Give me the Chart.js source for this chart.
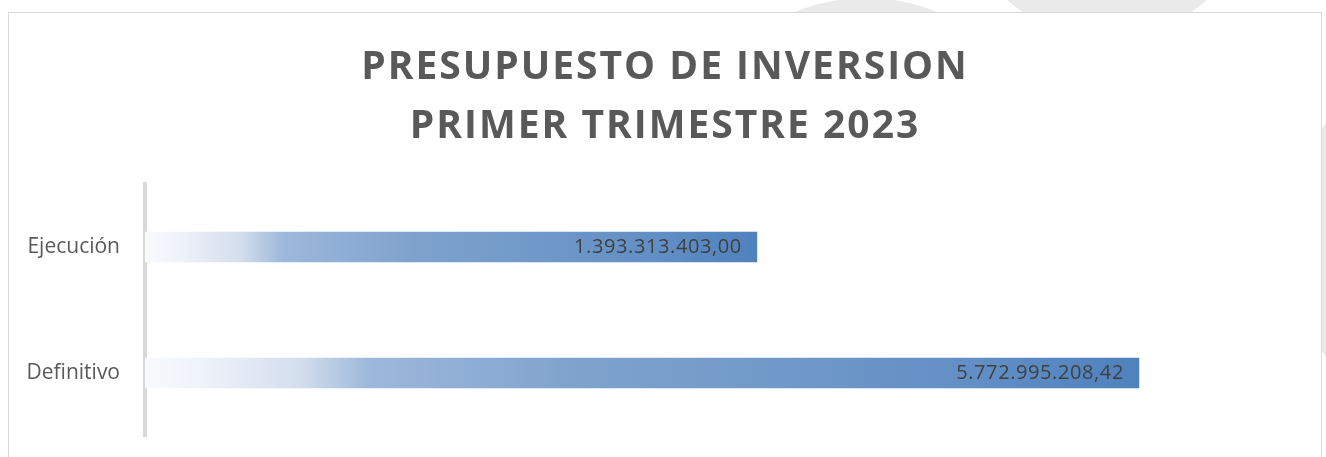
<!DOCTYPE html>
<html>
<head>
<meta charset="utf-8">
<script src="https://cdn.jsdelivr.net/npm/chart.js@4"></script>
<style>
  html, body { margin: 0; padding: 0; background: #fff; overflow: hidden; }
  body { width: 1326px; height: 457px; position: relative; }
  .blob { position: absolute; border-radius: 50%; background: #eaeaea; }
  #frame { position: absolute; left: 8px; top: 12px; width: 1312px; height: 460px;
           border: 1px solid #d9d9d9; background: #fff; }
  #wrap { position: absolute; left: 9px; top: 13px; width: 1312px; height: 444px; }
</style>
</head>
<body>
<div class="blob" style="left:676px; top:-2px; width:380px; height:380px;"></div>
<div class="blob" style="left:957px; top:-262px; width:300px; height:300px;"></div>
<div class="blob" style="left:1290px; top:30px; width:420px; height:420px;"></div>
<div id="frame"></div>
<div id="wrap"><canvas id="barChart"></canvas></div>
<script>
  // chart data
  var categories = ['Ejecución', 'Definitivo'];
  var values = [1393313403.00, 5772995208.42];
  var titleLines = ['PRESUPUESTO DE INVERSION', 'PRIMER TRIMESTRE 2023'];

  var axisMin = -5.62e9;
  var axisMax = 7.86e9;

  // 1.234.567,89 style
  function fmt(v) {
    var parts = v.toFixed(2).split('.');
    var intPart = parts[0].replace(/\B(?=(\d{3})+(?!\d))/g, '.');
    return intPart + ',' + parts[1];
  }

  function barGradient(context) {
    var chart = context.chart;
    var x = chart.scales.x;
    if (!x || !chart.chartArea) return '#4f81bd';
    var x0 = x.getPixelForValue(axisMin);
    var x1 = x.getPixelForValue(values[context.dataIndex]);
    var g = chart.ctx.createLinearGradient(x0, 0, x1, 0);
    g.addColorStop(0, '#f8fafd');
    g.addColorStop(0.06, '#eef2f9');
    g.addColorStop(0.156, '#d3deed');
    g.addColorStop(0.226, '#9db8db');
    g.addColorStop(0.44, '#7ea2cc');
    g.addColorStop(0.62, '#729ac9');
    g.addColorStop(0.84, '#618ec5');
    g.addColorStop(1, '#4f81bd');
    return g;
  }

  // spaced-out title like the office chart style
  var titleSpacing = {
    id: 'titleSpacing',
    afterInit: function(chart) {
      var t = chart.titleBlock;
      if (!t) return;
      var orig = t.draw.bind(t);
      t.draw = function() {
        chart.ctx.save();
        chart.ctx.letterSpacing = '2px';
        orig();
        chart.ctx.restore();
      };
    }
  };

  var valueLabels = {
    id: 'valueLabels',
    afterDatasetsDraw: function(chart) {
      var ctx = chart.ctx;
      var meta = chart.getDatasetMeta(0);
      ctx.save();
      ctx.font = '20px "Open Sans"';
      ctx.letterSpacing = '0.6px';
      ctx.fillStyle = '#404040';
      ctx.textAlign = 'right';
      ctx.textBaseline = 'middle';
      meta.data.forEach(function(bar, i) {
        ctx.fillText(fmt(values[i]), bar.x - 15, bar.y);
      });
      ctx.restore();
    }
  };

  var ctx = document.getElementById('barChart').getContext('2d');
  var barChart = new Chart(ctx, {
    type: 'bar',
    data: {
      labels: categories,
      datasets: [{
        data: values,
        base: axisMin,
        backgroundColor: barGradient,
        borderWidth: 0,
        barThickness: 30
      }]
    },
    options: {
      indexAxis: 'y',
      responsive: true,
      maintainAspectRatio: false,
      animation: false,
      layout: { padding: { top: 0, bottom: 21, left: 0, right: 0 } },
      plugins: {
        legend: { display: false },
        tooltip: { enabled: false },
        title: {
          display: true,
          text: titleLines,
          color: '#595959',
          font: { family: '"Open Sans"', size: 39, weight: 'bold', lineHeight: 1.513 },
          padding: { top: 25, bottom: 28 }
        }
      },
      scales: {
        x: {
          type: 'linear',
          display: false,
          min: axisMin,
          max: axisMax
        },
        y: {
          grid: { display: false, drawTicks: false },
          border: { display: true, color: '#d9d9d9', width: 4 },
          ticks: {
            color: '#595959',
            font: { family: '"Open Sans"', size: 21 },
            padding: 25
          },
          afterFit: function(scale) {
            scale.width = 136;
            scale.paddingTop = 0;
            scale.paddingBottom = 0;
          }
        }
      }
    },
    plugins: [titleSpacing, valueLabels]
  });
</script>
</body>
</html>
